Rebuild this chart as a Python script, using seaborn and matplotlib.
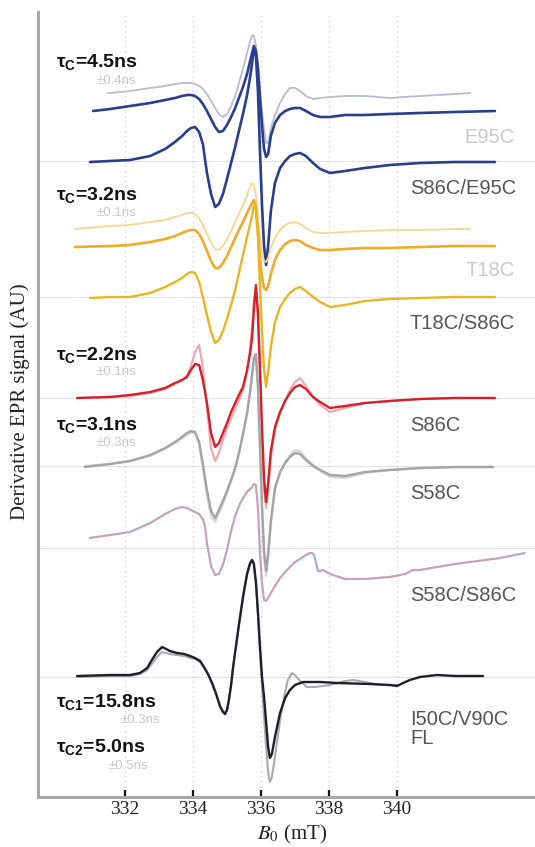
import matplotlib
matplotlib.use("Agg")
import matplotlib.pyplot as plt
import pandas as pd
import seaborn as sns

# ---------------------------------------------------------------
# CW-EPR derivative spectra: magnetic field (mT) and signal (AU),
# signal given relative to each trace's own baseline
# ---------------------------------------------------------------
# field positions shared by the single-label / double-label spectra
field_grid = [331.56, 332.15, 332.74, 333.18, 333.47, 333.68, 333.82, 333.94, 334.06, 334.18,
              334.29, 334.41, 334.53, 334.65, 334.76, 334.88, 335.00, 335.12, 335.24, 335.35,
              335.47, 335.59, 335.68, 335.74, 335.79, 335.85, 335.91, 335.97, 336.03, 336.09,
              336.15, 336.21, 336.29, 336.41, 336.56, 336.71, 336.85, 337.00, 337.15, 337.32,
              337.53, 337.74, 338.03, 338.47, 339.06, 339.79, 340.68, 341.71]

e95c_sim_ends = [(331.50, 0), (342.15, 0)]
e95c_sim_signal = [0, 2, 5, 7, 9, 10, 10, 10, 9, 7, 4, -1, -8, -15, -21, -24, -21, -13, -3, 10,
                   24, 40, 52, 58, 57, 48, 30, 5, -18, -36, -50, -50, -35, -22, -10, -1, 5, 5, 2, -3,
                   -6, -5, -4, -3, -3, -5, -3, -1]

e95c_ends = [(331.06, 0), (342.88, 0)]
e95c_signal = [2, 5, 8, 11, 13, 15, 16, 16, 15, 12, 7, 0, -8, -16, -21, -20, -14, -6, 3, 13,
               24, 37, 50, 58, 65, 60, 42, 12, -15, -38, -46, -43, -25, -12, -4, 0, 2, 3, 3, 0,
               -4, -6, -6, -4, -4, -3, -2, -1]

s86c_e95c_ends = [(330.97, -1), (342.88, -1)]
s86c_e95c_signal = [0, 1, 5, 12, 19, 25, 30, 33, 34, 29, 17, -12, -33, -46, -43, -33, -18, -2, 14, 30,
                    47, 66, 84, 98, 113, 105, 70, 10, -45, -85, -104, -85, -50, -22, -7, 0, 5, 7, 8, 5,
                    -2, -8, -12, -10, -7, -4, -2, -1]

t18c_sim_ends = [(330.53, 0), (342.15, 0)]
t18c_sim_signal = [3, 4, 7, 9, 12, 14, 16, 16, 15, 11, 4, -5, -14, -20, -21, -17, -10, -2, 7, 15,
                   24, 34, 42, 46, 44, 34, 15, -8, -24, -32, -33, -29, -19, -9, -1, 4, 6, 7, 5, 1,
                   -3, -4, -4, -3, -2, -1, -1, 0]

t18c_ends = [(330.53, -1), (342.88, 0)]
t18c_signal = [0, 1, 4, 7, 10, 13, 15, 16, 16, 12, 5, -5, -15, -22, -22, -17, -10, -1, 8, 16,
               24, 33, 39, 43, 46, 38, 15, -12, -32, -42, -44, -40, -28, -14, -4, 2, 5, 6, 5, 1,
               -2, -4, -4, -3, -2, -2, -1, 0]

t18c_s86c_ends = [(330.97, -1), (342.88, 0)]
t18c_s86c_signal = [0, 0, 4, 10, 15, 19, 23, 25, 24, 15, 0, -18, -35, -46, -43, -34, -22, -8, 7, 24,
                    42, 60, 73, 82, 90, 88, 60, 10, -35, -72, -90, -75, -50, -25, -10, -2, 4, 8, 10, 6,
                    0, -5, -10, -8, -4, -2, -1, 0]

s86c_sim_ends = [(330.59, 0), (342.88, 0)]
s86c_sim_signal = [1, 2, 5, 9, 14, 18, 22, 32, 46, 53, 30, -10, -50, -63, -55, -42, -30, -20, -11, -2,
                   8, 26, 50, 73, 98, 111, 80, 20, -40, -92, -110, -92, -60, -32, -15, -3, 8, 16, 20, 12,
                   1, -7, -14, -10, -5, -3, -1, 0]

s86c_ends = [(330.59, 0), (342.88, 0)]
s86c_signal = [1, 3, 6, 10, 15, 18, 21, 28, 34, 33, 18, -5, -35, -49, -45, -35, -25, -14, -5, 3,
               11, 28, 45, 61, 88, 113, 85, 30, -30, -80, -104, -85, -53, -29, -14, -3, 5, 11, 13, 9,
               1, -4, -10, -8, -5, -3, -1, 0]

s58c_sim_ends = [(330.82, 0), (342.82, -1)]
s58c_sim_signal = [2, 5, 10, 17, 23, 28, 31, 33, 33, 22, -2, -30, -50, -56, -48, -38, -27, -15, -3, 12,
                   31, 52, 73, 90, 105, 109, 78, 15, -45, -92, -110, -92, -58, -25, -7, 4, 11, 16, 15, 8,
                   1, -5, -11, -12, -7, -4, -2, -1]

s58c_ends = [(330.82, -1), (342.82, -1)]
s58c_signal = [2, 5, 11, 18, 24, 29, 33, 35, 34, 24, 2, -24, -45, -52, -44, -35, -25, -14, -2, 13,
               32, 53, 75, 92, 108, 112, 80, 20, -40, -85, -105, -88, -55, -22, -6, 3, 9, 13, 12, 6,
               0, -4, -9, -10, -6, -4, -2, -1]

s58c_s86c_field = [330.97, 331.56, 332.15, 332.74, 333.18, 333.47, 333.68, 333.82, 333.94, 334.06,
                   334.18, 334.24, 334.29, 334.35, 334.41, 334.53, 334.65, 334.76, 334.88, 335.00,
                   335.12, 335.24, 335.35, 335.47, 335.59, 335.68, 335.74, 335.79, 335.85, 335.91,
                   335.97, 336.03, 336.09, 336.15, 336.21, 336.29, 336.41, 336.56, 336.71, 336.85,
                   337.00, 337.15, 337.32, 337.44, 337.50, 337.56, 337.62, 337.68, 337.74, 337.82,
                   338.03, 338.47, 339.06, 339.79, 340.09, 340.24, 340.47, 340.68, 341.18, 341.71,
                   342.15, 343.03, 343.76]
s58c_s86c_signal = [10, 13, 16, 25, 34, 39, 41, 40, 38, 36,
                    34, 31, 29, 22, 5, -18, -27, -26, -17, -2,
                    17, 32, 42, 50, 56, 59, 61, 64, 63, 40,
                    -5, -35, -52, -53, -50, -45, -38, -30, -24, -19,
                    -14, -11, -7, -5, -5, -7, -15, -23, -23, -22,
                    -26, -31, -31, -29, -27, -26, -22, -22, -19, -16,
                    -14, -10, -5]

i50c_sim_field = [330.59, 331.56, 332.15, 332.44, 332.65, 332.79, 332.94, 333.09, 333.21, 333.32,
                  333.53, 333.74, 333.91, 334.06, 334.21, 334.32, 334.44, 334.56, 334.68, 334.79,
                  334.88, 334.94, 335.00, 335.06, 335.12, 335.18, 335.24, 335.35, 335.47, 335.59,
                  335.68, 335.74, 335.79, 335.85, 335.91, 335.97, 336.03, 336.09, 336.15, 336.21,
                  336.26, 336.32, 336.41, 336.56, 336.71, 336.79, 336.91, 337.03, 337.15, 337.35,
                  337.59, 338.03, 338.47, 338.71, 339.06, 339.50, 340.00]
i50c_sim_signal = [0, 1, 1, 3, 7, 13, 20, 25, 24, 23,
                   22, 21, 19, 18, 15, 10, 3, -6, -17, -28,
                   -34, -36, -33, -22, -8, 10, 25, 52, 80, 103,
                   114, 117, 113, 95, 62, 25, -10, -40, -70, -95,
                   -105, -100, -80, -43, -15, -3, 4, 1, -4, -10,
                   -10, -8, -4, -3, -5, -8, -8]

i50c_field = [330.59, 331.56, 332.15, 332.44, 332.65, 332.79, 332.94, 333.09, 333.21, 333.32,
              333.53, 333.74, 333.91, 334.06, 334.21, 334.32, 334.44, 334.56, 334.68, 334.79,
              334.88, 334.94, 335.00, 335.06, 335.12, 335.18, 335.24, 335.35, 335.47, 335.59,
              335.68, 335.74, 335.79, 335.85, 335.91, 335.97, 336.03, 336.09, 336.15, 336.21,
              336.26, 336.32, 336.41, 336.56, 336.71, 336.85, 337.00, 337.24, 337.74, 338.24,
              339.21, 339.79, 340.00, 340.18, 340.38, 340.68, 341.18, 341.71, 342.53]
i50c_signal = [1, 2, 2, 4, 9, 17, 25, 30, 28, 26,
               24, 23, 21, 19, 16, 10, 3, -6, -17, -29,
               -35, -37, -33, -22, -8, 10, 25, 52, 80, 103,
               114, 117, 113, 95, 65, 30, 0, -20, -45, -70,
               -81, -77, -60, -36, -21, -13, -8, -5, -5, -6,
               -7, -8, -9, -6, -3, 0, 2, 1, 1]

# sample names and rotational correlation times
sample_labels = ["E95C", "S86C/E95C", "T18C", "T18C/S86C", "S86C", "S58C", "S58C/S86C",
                 "I50C/V90C\nFL"]
tau_labels = [r"$\mathbf{\tau_C}$=4.5ns", r"$\mathbf{\tau_C}$=3.2ns", r"$\mathbf{\tau_C}$=2.2ns",
              r"$\mathbf{\tau_C}$=3.1ns", r"$\mathbf{\tau_{C1}}$=15.8ns", r"$\mathbf{\tau_{C2}}$=5.0ns"]
tau_errors = ["±0.4ns", "±0.1ns", "±0.1ns", "±0.3ns", "±0.3ns", "±0.5ns"]
xticks = [332, 334, 336, 338, 340]


def on_grid(ends, signal):
    (f0, s0), (f1, s1) = ends
    return [f0] + field_grid + [f1], [s0] + signal + [s1]


# (field, signal, baseline, colour, line width)
traces = [
    (*on_grid(e95c_sim_ends, e95c_sim_signal), 704, "#b9bccd", 1.3),
    (*on_grid(e95c_ends, e95c_signal), 686, "#2b3d8e", 1.9),
    (*on_grid(s86c_e95c_ends, s86c_e95c_signal), 636, "#2b3d8e", 1.9),
    (*on_grid(t18c_sim_ends, t18c_sim_signal), 568, "#f4d890", 1.3),
    (*on_grid(t18c_ends, t18c_signal), 551, "#f0ab2a", 1.9),
    (*on_grid(t18c_s86c_ends, t18c_s86c_signal), 500, "#e8b622", 1.7),
    (*on_grid(s86c_sim_ends, s86c_sim_signal), 399, "#f0a9ae", 1.6),
    (*on_grid(s86c_ends, s86c_signal), 399, "#d5202c", 1.7),
    (*on_grid(s58c_sim_ends, s58c_sim_signal), 331, "#d8d8d8", 1.6),
    (*on_grid(s58c_ends, s58c_signal), 331, "#a4a4a4", 1.7),
    (s58c_s86c_field, s58c_s86c_signal, 249, "#c4a3ba", 1.6),
    (i50c_sim_field, i50c_sim_signal, 120, "#ababab", 1.5),
    (i50c_field, i50c_signal, 120, "#1f1f26", 1.7),
]
reference_lines = [636, 500, 399, 331, 249, 120]

sns.set_theme(style="white")
plt.rcParams["font.family"] = ["Liberation Sans", "DejaVu Sans"]
plt.rcParams["mathtext.fontset"] = "custom"
plt.rcParams["mathtext.bf"] = "Liberation Sans:bold"
plt.rcParams["mathtext.rm"] = "Liberation Sans"
plt.rcParams["mathtext.it"] = "Liberation Sans:italic"

fig = plt.figure(figsize=(5.35, 8.47), dpi=100)
ax = fig.add_axes([38 / 535, 50 / 847, 497 / 535, 785 / 847])

for y0 in reference_lines:
    ax.axhline(y0, color="#e3e3e3", lw=0.8, zorder=0)

for i, (fx, sy, base, col, lw) in enumerate(traces):
    df = pd.DataFrame({"field": fx, "signal": [base + v for v in sy]})
    sns.lineplot(data=df, x="field", y="signal", color=col, lw=lw, ax=ax,
                 estimator=None, sort=False, zorder=2 + i * 0.1)
    ax.lines[-1].set_solid_joinstyle("round")
    ax.lines[-1].set_solid_capstyle("round")

ax.set_xlim(329.44, 344.06)
ax.set_ylim(0, 785)
ax.set_xticks(xticks)
ax.set_xticklabels([str(t) for t in xticks])
ax.set_yticks([])
ax.set_xlabel("")
ax.set_ylabel("")
ax.grid(axis="x", color="#cfcfcf", lw=0.9, linestyle=(0, (1, 3)), zorder=0)
ax.tick_params(axis="x", direction="in", length=5, width=1.6, color="#111111", pad=3,
               labelsize=14, labelcolor="#222222", labelfontfamily="Liberation Serif", bottom=True)
for side in ("top", "right"):
    ax.spines[side].set_visible(False)
for side in ("left", "bottom"):
    ax.spines[side].set_color("#a8a8a8")
    ax.spines[side].set_linewidth(2.2)

# sample names on the right
name_pos = [(343.47, 660, "right", "#c9c9c9"), (340.38, 609, "left", "#555555"),
            (343.47, 527, "right", "#c9c9c9"), (340.38, 474, "left", "#555555"),
            (340.38, 372, "left", "#555555"), (340.38, 304, "left", "#555555"),
            (340.38, 202, "left", "#555555"), (340.38, 68, "left", "#555555")]
for text, (x, y, ha, col) in zip(sample_labels, name_pos):
    ax.text(x, y, text, ha=ha, va="center", fontsize=14.5, color=col, linespacing=1.05)

# rotational correlation times with their uncertainties
tau_pos = [(329.97, 730), (329.97, 597), (329.97, 437), (329.97, 367), (329.97, 90), (329.97, 45)]
err_pos = [(332.32, 713), (332.32, 581), (332.32, 422), (332.32, 351), (333.03, 74), (332.68, 28)]
for text, (x, y) in zip(tau_labels, tau_pos):
    ax.text(x, y, text, ha="left", va="baseline", fontsize=14, fontweight="bold",
            color="#111111", math_fontfamily="custom")
for text, (x, y) in zip(tau_errors, err_pos):
    ax.text(x, y, text, ha="right", va="baseline", fontsize=9.5, color="#c8c8c8")

fig.text(20 / 535, 1 - 402 / 847, "Derivative EPR signal (AU)", rotation=90, ha="center",
         va="center", fontsize=15, color="#222222", family="Liberation Serif")
fig.text(292 / 535, 1 - 834 / 847, r"$B_0$ (mT)", ha="center", va="center", fontsize=15,
         color="#222222", family="Liberation Serif", math_fontfamily="stix")

fig.savefig("out.png", dpi=100)
